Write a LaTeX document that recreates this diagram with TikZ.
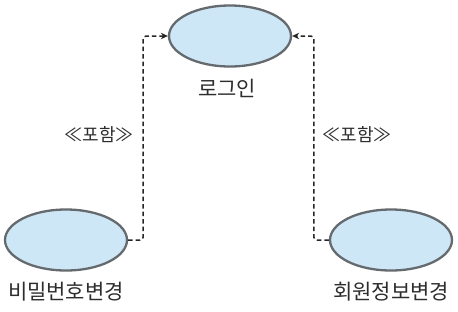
\documentclass[tikz,border=0pt]{standalone}
\usepackage{fontspec}
\newfontfamily\krfont{Noto Sans CJK KR}
\usepackage{tikz}
\usetikzlibrary{arrows,arrows.meta,positioning,shapes.geometric}
\definecolor{ucfill}{RGB}{206,231,246}
\definecolor{ucline}{RGB}{100,106,110}
\definecolor{labeltext}{RGB}{45,45,45}

\begin{document}
\begin{tikzpicture}[x=1pt,y=-1pt,
  usecase/.style={ellipse,draw=ucline,fill=ucfill,line width=2.3pt,
    minimum width=122pt,minimum height=61pt,inner sep=0pt},
  uclabel/.style={font=\krfont\fontsize{21}{24}\selectfont,text=labeltext},
  incllabel/.style={font=\krfont\fontsize{18}{20}\selectfont,text=labeltext},
  incl/.style={->,>={Stealth[length=7pt,width=6.5pt]},black!85,line width=1.5pt,
    dash pattern=on 4.5pt off 3pt,rounded corners=3pt}]
\useasboundingbox (0,0) rectangle (458,311);
\node[usecase] (login) at (230,36) {};
\node[uclabel] at (227,88) {로그인};
\node[usecase] (changepw) at (66,240) {};
\node[uclabel] at (66,292) {비밀번호변경};
\node[usecase] (changeinfo) at (391,240) {};
\node[uclabel] at (391,292) {회원정보변경};
\draw[incl] (changepw.east) -- ++(15,0) |- (login.west);
\draw[incl] (changeinfo.west) -- ++(-15,0) |- (login.east);
\node[incllabel] at (99,135) {≪포함≫};
\node[incllabel] at (357,135) {≪포함≫};
\end{tikzpicture}
\end{document}
